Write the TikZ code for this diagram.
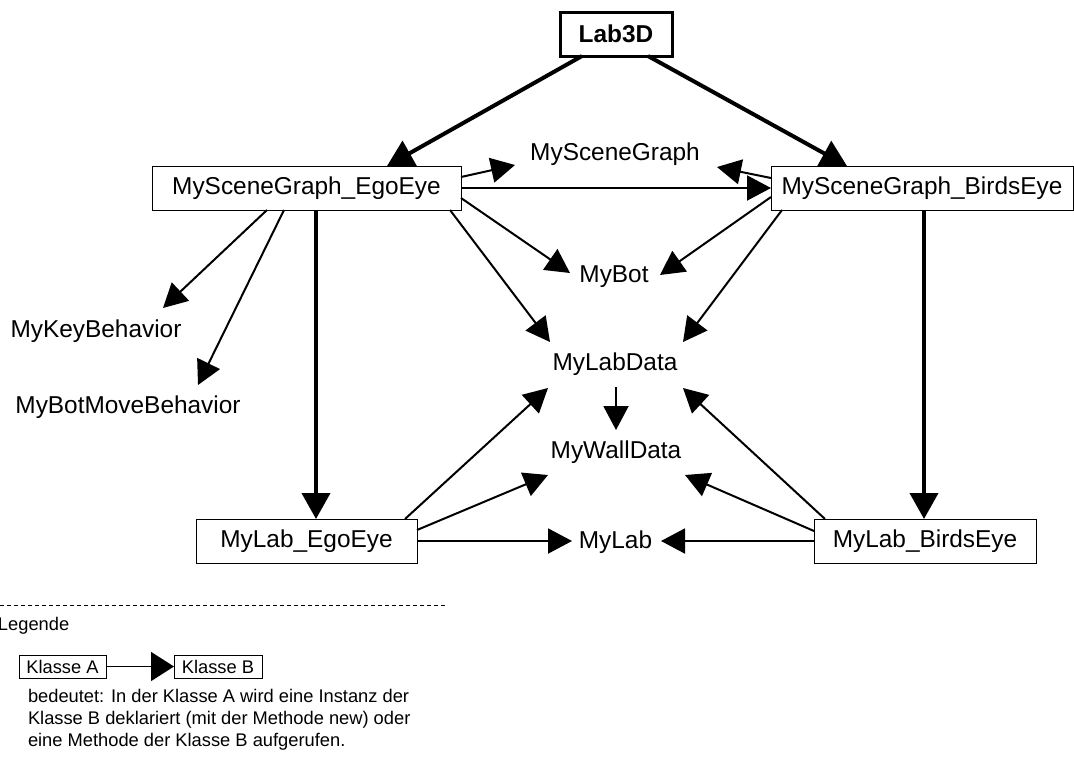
\documentclass[tikz,border=0pt]{standalone}
\usepackage{fontspec}
\setmainfont{Liberation Sans}
\usetikzlibrary{arrows.meta,calc}

\begin{document}
\begin{tikzpicture}[x=1pt,y=-1pt,
  every node/.style={inner sep=0pt, outer sep=0pt},
  big/.style={font=\fontsize{24.4}{29}\selectfont, text height=17.5pt, text depth=5pt},
  cls/.style={big, draw, line width=1pt, minimum height=44pt},
  small/.style={font=\fontsize{18.3}{21.7}\selectfont},
  smallcls/.style={small, draw, line width=1pt, minimum height=23pt,
                   text height=13.2pt, text depth=0pt},
  link/.style={line width=2pt, -{Triangle[length=24pt,width=25pt]}},
  strong/.style={line width=4pt, -{Triangle[length=26pt,width=28pt]}},
]
\useasboundingbox (0,0) rectangle (1074,756);

% classes drawn as boxes
\node[cls, line width=3pt, minimum width=112pt, text depth=0pt,
      font={\fontsize{24.4}{29}\selectfont\bfseries}] (lab3d) at (616,34) {Lab3D};
\node[cls, minimum width=309pt] (sgego)    at (306.5,188) {MySceneGraph\_EgoEye};
\node[cls, minimum width=302pt] (sgbirds)  at (922,188)   {MySceneGraph\_BirdsEye};
\node[cls, minimum width=221pt] (labego)   at (306.5,541) {MyLab\_EgoEye};
\node[cls, minimum width=222pt] (labbirds) at (925,541)   {MyLab\_BirdsEye};

% classes shown as plain labels
\node[big] (msg)       at (615,153.75) {MySceneGraph};
\node[big] (mybot)     at (614,275.75) {MyBot};
\node[big] (labdata)   at (615,363.75) {MyLabData};
\node[big] (walldata)  at (616,451.75) {MyWallData};
\node[big] (mylab)     at (615.5,541.75) {MyLab};
\node[big] (mykey)     at (96,330.75)  {MyKeyBehavior};
\node[big] (mybotmove) at (128,406.75) {MyBotMoveBehavior};

% Lab3D creates both scene graphs
\draw[strong] ($(lab3d)+(-34,22)$) -- ($(sgego)+(80.5,-22)$);
\draw[strong] ($(lab3d)+(32,22)$) -- ($(sgbirds)+(-75,-22)$);

% scene graphs create their labs
\draw[strong] ($(sgego)+(9.5,22)$) -- ($(labego)+(9.5,-22)$);
\draw[strong] ($(sgbirds)+(2,22)$) -- ($(labbirds)+(-1,-22)$);

% uses of the ego-eye scene graph
\draw[link] ($(sgego)+(154.5,-11)$) -- ($(msg)+(-100,11.25)$);
\draw[link] (sgego.east) -- (sgbirds.west);
\draw[link] ($(sgego)+(154.5,10)$) -- ($(mybot)+(-44,-2.75)$);
\draw[link] ($(sgego)+(143.5,22)$) -- ($(labdata)+(-65,-21.75)$);
\draw[link] ($(sgego)+(-39.5,22)$) -- ($(mykey)+(67,-22.75)$);
\draw[link] ($(sgego)+(-22.5,22)$) -- ($(mybotmove)+(70,-21.75)$);

% uses of the birds-eye scene graph
\draw[link] ($(sgbirds)+(-151,-10)$) -- ($(msg)+(102,13.25)$);
\draw[link] ($(sgbirds)+(-151,9)$) -- ($(mybot)+(46,-0.75)$);
\draw[link] ($(sgbirds)+(-140,22)$) -- ($(labdata)+(68,-21.75)$);

% lab data holds the wall data
\draw[link] ($(labdata)+(1,23.25)$) -- ($(walldata)+(0,-21.75)$);

% uses of the two labs
\draw[link] ($(labego)+(98.5,-22)$) -- ($(labdata)+(-67,24.25)$);
\draw[link] ($(labego)+(110.5,-11)$) -- ($(walldata)+(-68,23.25)$);
\draw[link] (labego.east) -- ($(mylab)+(-43.5,-0.75)$);
\draw[link] ($(labbirds)+(-100,-22)$) -- ($(labdata)+(68,24.25)$);
\draw[link] ($(labbirds)+(-111,-10)$) -- ($(walldata)+(69,23.25)$);
\draw[link] (labbirds.west) -- ($(mylab)+(45.5,-0.75)$);

% legend
\coordinate (sepl) at (0,605);
\coordinate (sepr) at (447,605);
\draw[line width=1pt, dash pattern=on 4pt off 3pt] (sepl) -- (sepr);
\node[small, anchor=base west] (legtitle) at (-2,630) {Legende};
\node[smallcls, minimum width=87pt] (klA) at (62.5,666.5) {Klasse A};
\node[smallcls, minimum width=88pt] (klB) at (218,666.5) {Klasse B};
\draw[line width=1.5pt, -{Triangle[length=23pt,width=29pt]}] (klA.east) -- (klB.west);
\node[small, anchor=north west, align=left] (legtext) at (28,689.5)
  {bedeutet: In der Klasse A wird eine Instanz der\\
   Klasse B deklariert (mit der Methode new) oder\\
   eine Methode der Klasse B aufgerufen.};
\end{tikzpicture}
\end{document}
